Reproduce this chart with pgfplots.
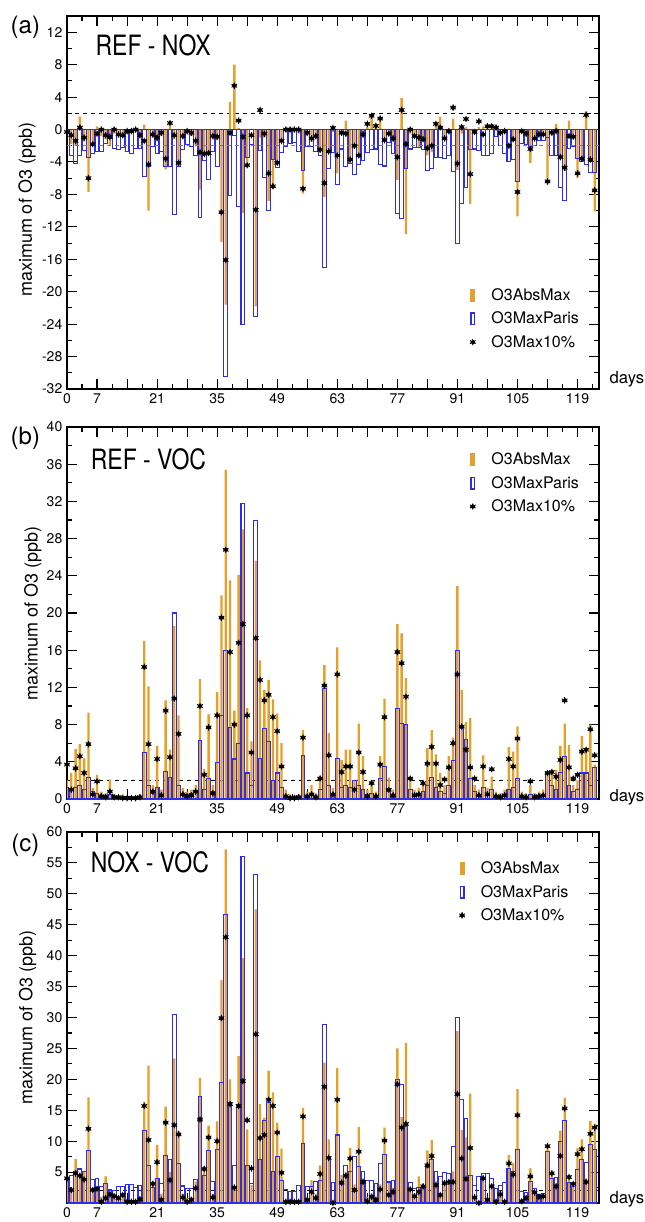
\documentclass[border=0pt]{standalone}
\usepackage{fontspec}
\setmainfont{TeX Gyre Heros}
\usepackage{pgfplots}
\usepackage{pgfplotstable}
\pgfplotsset{compat=1.18}

\definecolor{absc}{RGB}{229,160,42}
\definecolor{parc}{RGB}{45,45,235}

\pgfdeclareplotmark{starbullet}{%
  \pgfuseplotmark{asterisk}%
  \pgfpathcircle{\pgfpointorigin}{0.6\pgfplotmarksize}%
  \pgfusepathqfillstroke}

% REF - NOX : day, O3AbsMax, O3MaxParis, O3Max10%
\pgfplotstableread{
d A P S
0 -0.3 -0.5 -0.3
1 -1.8 -3.2 -0.7
2 -2.0 -4.2 -1.4
3 1.6 -3.2 0.25
4 -1.5 -2.6 -1.0
5 -7.7 -3.4 -6.0
6 -2.0 -3.0 -1.8
7 0.4 -2.7 -0.5
8 -0.8 -2.7 0.0
9 -1.2 -1.7 -0.7
10 -1.9 -1.1 -0.9
11 -0.5 -2.3 0.0
12 -1.0 -2.5 -0.6
13 -1.0 -2.2 -0.7
14 -0.5 -2.7 -0.2
15 -0.4 -3.0 -0.2
16 -0.3 -2.3 0.0
17 -1.0 -2.3 -0.7
18 0.6 -5.8 -1.4
19 -10.0 -4.6 -4.3
20 -1.0 -2.1 -0.6
21 -1.5 -3.0 -1.0
22 -0.8 -2.7 -0.4
23 -4.9 -4.6 -3.6
24 0.9 -4.6 0.8
25 -1.2 -10.5 -0.7
26 -4.5 -4.6 -4.1
27 -1.2 -2.5 -0.8
28 -0.5 -1.9 -0.2
29 -0.8 -2.1 -0.4
30 -2.0 -3.2 -1.4
31 -7.4 -10.8 -2.8
32 -3.2 -3.8 -3.0
33 -3.2 -6.2 -2.9
34 -1.2 -2.7 -0.8
35 -1.3 -4.6 -0.9
36 -13.9 -2.0 -10.2
37 -21.6 -30.5 -16.1
38 3.4 -8.1 -0.4
39 8.0 -0.7 5.4
40 0.2 -9.5 1.1
41 -10.3 -24.1 -0.9
42 -4.0 -3.4 -4.4
43 0.1 -1.9 -0.7
44 -21.8 -23.1 -9.9
45 -1.0 -2.6 2.4
46 -1.0 -5.9 -0.5
47 -8.8 -10.0 -5.4
48 -7.3 -3.7 -7.0
49 -4.3 -4.7 -4.1
50 -1.5 -2.8 -1.4
51 -0.3 -2.1 0.0
52 -0.3 -1.7 0.0
53 -0.3 -1.6 0.0
54 -0.5 -2.7 0.0
55 -7.9 -5.0 -7.3
56 -0.8 -2.1 -0.4
57 -1.5 -2.1 -1.1
58 -1.2 -2.7 -0.8
59 -2.7 -3.2 -2.5
60 -8.3 -17.0 -6.6
61 -2.8 -4.8 -2.7
62 -0.3 -2.8 0.2
63 -5.4 -6.8 -3.2
64 -0.6 -2.4 -0.4
65 1.1 -4.6 -0.5
66 -4.2 -4.2 -3.7
67 -2.2 -5.5 -2.0
68 -3.5 -4.3 -3.2
69 -1.0 -3.8 -0.6
70 0.3 -2.8 0.7
71 1.8 -2.5 1.7
72 0.2 -2.4 0.45
73 1.1 -4.3 1.35
74 -1.3 -4.5 -1.3
75 -0.8 -1.6 -0.5
76 -1.5 -3.0 -1.1
77 -6.2 -10.3 -3.4
78 3.9 -11.0 2.4
79 -12.9 -4.8 -1.8
80 -0.5 -2.4 0.0
81 -1.0 -2.2 -0.8
82 -2.3 -2.2 -1.0
83 -1.5 -2.5 -1.2
84 -3.2 -5.0 -2.3
85 -2.8 -4.8 -2.0
86 0.9 -3.4 0.7
87 1.6 -3.4 0.25
88 -1.2 -3.6 -1.1
89 -0.5 -3.2 -0.2
90 1.35 -5.2 2.7
91 -5.0 -14.1 -4.2
92 -0.5 -9.1 0.3
93 0.3 -7.2 1.3
94 -9.2 -2.5 -5.5
95 -0.5 -2.4 -0.3
96 0.3 -2.6 1.0
97 0.4 -3.2 -0.6
98 0.4 -3.2 0.4
99 0.4 -2.9 0.4
100 0.2 -0.9 0.25
101 -0.3 -2.0 -0.4
102 -0.5 -3.0 -0.2
103 0.1 -3.9 -2.0
104 -1.3 -3.7 -1.2
105 -10.7 -6.4 -7.7
106 -0.3 -1.7 -0.2
107 -0.8 -1.9 -0.5
108 -4.1 -2.1 -2.4
109 -1.0 -2.0 -1.1
110 -0.6 -1.4 -0.6
111 -0.6 -1.4 -0.6
112 -6.8 -1.0 -6.4
113 -0.5 -3.2 -0.4
114 0.7 -3.2 -0.2
115 -3.4 -7.2 -3.4
116 -5.1 -8.8 -4.7
117 1.1 -2.3 -0.8
118 -0.9 -2.1 -0.9
119 -6.0 -3.6 -5.4
120 -3.6 -4.0 -3.6
121 2.25 -4.3 1.8
122 -3.7 -5.3 -3.7
123 -10.1 -5.3 -7.5
}\refnox

% REF - VOC
\pgfplotstableread{
d A P S
0 2.0 1.2 3.7
1 2.8 1.0 1.0
2 5.4 1.2 3.3
3 5.9 1.5 4.6
4 4.4 1.0 2.8
5 9.3 2.3 5.9
6 1.2 0.8 0.5
7 2.6 0.6 1.9
8 0.8 0.4 0.3
9 0.6 0.4 0.2
10 2.1 0.5 0.8
11 0.5 0.3 0.2
12 0.4 0.3 0.2
13 0.5 0.3 0.1
14 0.3 0.3 0.1
15 0.3 0.2 0.1
16 0.3 0.2 0.1
17 0.5 0.3 0.2
18 17.0 5.0 14.2
19 12.1 1.5 5.9
20 1.5 0.6 0.8
21 5.7 1.2 4.3
22 1.0 0.5 0.4
23 10.6 3.0 9.5
24 5.3 2.3 4.5
25 18.6 20.0 10.8
26 9.0 1.5 7.0
27 1.2 0.6 0.5
28 0.8 0.5 0.3
29 1.0 0.6 0.4
30 1.5 0.8 0.8
31 12.9 6.3 10.0
32 3.2 1.0 2.6
33 9.1 2.2 7.7
34 1.5 0.8 0.6
35 11.5 3.9 9.0
36 21.9 9.0 19.5
37 35.4 16.0 26.8
38 23.5 7.7 15.8
39 9.5 4.3 8.0
40 24.1 6.0 16.8
41 29.0 31.8 18.8
42 9.8 2.8 9.0
43 6.2 1.5 5.0
44 25.6 29.9 17.3
45 14.9 4.4 12.8
46 11.7 7.6 10.6
47 12.8 6.2 11.2
48 10.7 2.0 8.8
49 9.2 2.8 7.3
50 6.0 1.2 3.5
51 1.0 0.4 0.3
52 0.5 0.3 0.1
53 0.4 0.3 0.1
54 0.5 0.3 0.2
55 7.4 4.7 6.6
56 0.8 0.4 0.3
57 1.5 0.5 0.5
58 0.6 0.3 0.2
59 2.5 1.0 2.2
60 14.4 11.9 12.2
61 7.1 1.5 4.7
62 1.2 0.5 0.5
63 16.3 4.4 13.4
64 4.2 1.2 2.9
65 5.3 1.5 3.5
66 5.3 1.2 3.5
67 2.0 2.0 1.0
68 8.1 1.5 5.0
69 4.6 1.0 2.9
70 1.0 0.5 0.3
71 2.0 0.6 1.7
72 0.8 0.4 0.3
73 4.6 2.2 3.7
74 10.8 3.5 8.8
75 2.3 0.8 1.0
76 1.0 0.5 0.4
77 18.8 9.7 15.8
78 17.8 8.1 14.6
79 13.0 8.0 11.0
80 2.2 1.0 2.2
81 1.0 0.5 0.4
82 1.2 0.6 0.5
83 1.8 0.8 1.7
84 5.5 1.5 3.8
85 7.4 2.3 5.6
86 4.8 1.2 3.8
87 2.8 0.8 1.5
88 1.5 0.6 2.1
89 4.6 1.5 3.4
90 6.6 4.1 6.0
91 22.9 16.0 13.4
92 11.7 7.6 7.8
93 8.3 6.4 5.3
94 8.7 2.2 3.4
95 1.5 0.8 2.2
96 1.0 0.5 0.4
97 4.7 1.2 3.5
98 1.2 0.6 0.5
99 2.4 1.0 3.2
100 0.8 0.4 0.3
101 0.6 0.3 0.2
102 1.0 0.5 0.4
103 5.6 1.0 4.3
104 5.1 1.2 3.5
105 7.8 2.2 6.5
106 0.8 0.4 0.3
107 0.6 0.3 0.2
108 1.5 0.5 1.9
109 0.6 0.3 0.2
110 0.8 0.4 0.3
111 1.0 0.5 0.4
112 2.9 2.9 2.8
113 3.1 1.5 2.9
114 3.1 1.0 2.4
115 5.7 2.9 4.2
116 8.1 4.6 10.6
117 5.8 1.5 3.4
118 1.5 0.8 2.2
119 2.0 1.0 2.6
120 6.8 2.8 5.1
121 5.4 2.8 5.3
122 8.0 1.5 7.5
123 3.7 3.4 4.7
}\refvoc

% NOX - VOC
\pgfplotstableread{
d A P S
0 3.5 4.2 4.0
1 2.5 4.4 2.1
2 7.1 5.1 4.8
3 4.0 5.5 4.4
4 5.1 5.1 3.8
5 17.1 8.5 12.0
6 2.5 3.8 2.1
7 2.5 3.9 2.3
8 1.0 2.6 0.2
9 4.3 3.1 0.8
10 1.8 2.1 1.4
11 1.5 2.0 1.1
12 1.2 2.6 0.8
13 1.5 2.6 1.3
14 0.5 3.0 0.2
15 0.5 3.0 0.2
16 0.5 2.5 0.2
17 1.0 2.9 0.6
18 16.4 11.7 15.7
19 22.2 6.0 10.2
20 3.5 2.5 3.1
21 9.4 4.0 6.6
22 1.5 3.2 0.5
23 15.6 7.7 13.0
24 5.0 7.0 3.7
25 23.4 30.5 12.6
26 11.7 6.4 11.1
27 1.5 2.75 0.9
28 0.8 2.3 0.2
29 1.0 2.3 0.5
30 3.5 3.8 2.4
31 20.2 17.2 13.5
32 6.0 4.5 5.5
33 12.5 8.5 10.6
34 1.5 3.5 0.9
35 13.2 8.6 10.0
36 36.1 19.5 29.9
37 57.2 46.7 43.0
38 20.0 16.3 16.0
39 2.5 6.1 2.5
40 23.8 15.4 15.7
41 39.6 56.1 19.7
42 11.9 6.1 13.4
43 2.9 3.2 5.6
44 47.5 53.2 27.3
45 16.0 7.0 10.5
46 13.8 13.4 11.0
47 21.4 16.3 16.7
48 17.9 5.1 15.7
49 13.0 7.5 11.4
50 8.8 3.7 4.9
51 0.5 2.2 0.2
52 0.3 1.8 0.2
53 0.3 1.8 0.2
54 0.5 2.9 0.2
55 15.4 9.6 14.0
56 1.0 2.6 0.5
57 3.7 2.6 1.8
58 1.5 3.5 0.8
59 6.1 3.6 4.7
60 22.7 28.9 18.8
61 10.3 7.4 7.3
62 0.5 3.3 0.0
63 21.8 11.0 16.7
64 4.5 3.0 3.3
65 5.0 6.1 4.4
66 8.9 5.1 7.2
67 3.0 7.5 2.1
68 12.3 5.9 8.3
69 4.0 5.1 3.4
70 1.0 3.7 0.3
71 1.5 3.6 1.0
72 1.0 3.2 0.5
73 3.0 6.4 2.2
74 12.2 7.9 10.1
75 3.5 3.4 1.3
76 2.5 3.6 1.8
77 25.0 19.9 19.2
78 13.9 19.2 12.2
79 25.9 12.7 12.8
80 2.5 3.3 2.2
81 1.5 2.4 1.1
82 4.3 2.5 1.8
83 3.0 2.9 2.7
84 8.5 5.8 6.1
85 10.2 7.0 7.6
86 3.5 5.1 2.9
87 1.5 4.3 1.3
88 3.5 4.9 3.2
89 3.5 4.8 3.4
90 5.1 9.2 3.4
91 27.8 30.0 17.6
92 11.8 16.7 7.2
93 10.6 13.7 3.9
94 17.7 4.5 8.9
95 1.0 2.9 0.9
96 0.3 4.3 0.0
97 4.0 4.8 4.0
98 1.0 4.8 0.5
99 3.0 4.0 2.7
100 0.5 2.4 0.2
101 2.0 2.9 1.4
102 0.5 3.3 0.2
103 7.8 5.6 6.4
104 6.5 5.1 4.6
105 18.4 8.6 14.2
106 0.5 1.9 0.3
107 1.0 1.7 0.8
108 5.6 3.5 4.3
109 2.0 2.4 1.7
110 1.2 1.4 1.0
111 1.3 1.5 1.1
112 9.0 8.3 9.2
113 5.0 4.0 4.8
114 3.0 4.1 2.7
115 11.7 10.0 7.6
116 17.0 13.3 15.3
117 4.5 3.3 4.2
118 3.3 2.6 3.1
119 8.9 5.4 7.9
120 10.3 7.1 8.7
121 4.0 6.5 3.4
122 13.3 9.5 11.2
123 12.8 8.7 12.2
}\noxvoc

\pgfplotsset{
  panel/.style={
    scale only axis, width=399pt,
    xmin=0, xmax=124,
    clip mode=individual,
    axis line style={line width=1.5pt},
    every tick/.style={black, line width=0.8pt},
    major tick length=7.5pt, minor tick length=3.75pt,
    tick align=inside,
    xtick={0,7,...,119},
    xticklabels={0,7,{},21,{},35,{},49,{},63,{},77,{},91,{},105,{},119},
    minor xtick={3.5,10.5,...,122.5},
    ticklabel style={font=\fontsize{10.5}{12}\selectfont},
    /pgf/number format/assume math mode=true,
    ylabel={maximum of O3 (ppb)},
    ylabel style={font=\fontsize{13.5}{16}\selectfont, anchor=center},
    legend cell align=left,
    legend style={draw=none, fill=none, anchor=west, inner sep=0pt,
      row sep=5pt, nodes={inner sep=1pt}, font=\fontsize{12}{14}\selectfont},
  },
  absbar/.style={ybar, bar shift=0pt, bar width=0.55, fill=absc, draw=none,
    legend image code/.code={\fill[absc] (-1.9pt,-4.9pt) rectangle (1.9pt,4.9pt);
      \path[draw=none, fill=none] (-1.9pt,0pt) -- (13pt,0pt);}},
  parbar/.style={ybar, bar shift=0pt, bar width=0.9, draw=parc, line width=0.8pt, fill=none,
    legend image code/.code={\draw[parc, line width=1pt] (-1.3pt,-4.4pt) rectangle (1.3pt,4.4pt);
      \path[draw=none, fill=none] (-1.9pt,0pt) -- (13pt,0pt);}},
  p10/.style={only marks, mark=starbullet, mark size=2.4pt, black, line width=0.7pt,
    legend image code/.code={\path[draw=none, fill=none] (-1.9pt,0pt) -- (13pt,0pt);
      \pgfsetplotmarksize{2.4pt}\pgfuseplotmark{starbullet}}},
}

\begin{document}
\begin{tikzpicture}

% (a) REF - NOX
\begin{axis}[panel, at={(50.25pt,-12pt)}, anchor=north west, height=279.75pt,
  ymin=-32, ymax=14,
  ytick={-32,-28,...,12}, minor ytick={-30,-26,...,10},
  ylabel style={at={(axis description cs:-0.075,0.48)}},
  legend style={at={(axis description cs:0.757,0.188)}}]
\draw[dashed, line width=0.6pt] (axis cs:0,2) -- (axis cs:124,2);
\addplot[absbar] table[x=d, y=A] {\refnox};
\addplot[parbar] table[x=d, y=P] {\refnox};
\draw[dashed, gray, line width=0.8pt] (axis cs:0,-2) -- (axis cs:124,-2);
\addplot[p10] table[x=d, y=S] {\refnox};
\legend{O3AbsMax, O3MaxParis, O3Max10\%}
\node[anchor=west, font=\fontsize{21}{24}\selectfont] at (axis description cs:0.045,0.922) {\scalebox{0.82}[1]{REF - NOX}};
\node[anchor=base west, font=\fontsize{12.5}{14}\selectfont, xshift=4.5pt, yshift=4.5pt] at (rel axis cs:1,0) {days};
\end{axis}

% (b) REF - VOC
\begin{axis}[panel, at={(50.25pt,-320.25pt)}, anchor=north west, height=279pt,
  ymin=0, ymax=40,
  ytick={0,4,...,40}, minor ytick={2,6,...,38},
  ylabel style={at={(axis description cs:-0.064,0.5)}},
  legend style={at={(axis description cs:0.757,0.849)}}]
\draw[dashed, line width=0.6pt] (axis cs:0,2) -- (axis cs:124,2);
\addplot[absbar] table[x=d, y=A] {\refvoc};
\addplot[parbar] table[x=d, y=P] {\refvoc};
\addplot[p10] table[x=d, y=S] {\refvoc};
\legend{O3AbsMax, O3MaxParis, O3Max10\%}
\node[anchor=west, font=\fontsize{21}{24}\selectfont] at (axis description cs:0.036,0.914) {\scalebox{0.82}[1]{REF - VOC}};
\node[anchor=base west, font=\fontsize{12.5}{14}\selectfont, xshift=4.5pt, yshift=-1.5pt] at (rel axis cs:1,0) {days};
\end{axis}

% (c) NOX - VOC
\begin{axis}[panel, at={(50.25pt,-624pt)}, anchor=north west, height=278.25pt,
  ymin=0, ymax=60,
  ytick={5,10,...,60}, minor ytick={2.5,7.5,...,57.5},
  ylabel style={at={(axis description cs:-0.074,0.5)}},
  legend style={at={(axis description cs:0.737,0.838)}}]
\draw[dashed, line width=0.6pt] (axis cs:0,2) -- (axis cs:124,2);
\addplot[absbar] table[x=d, y=A] {\noxvoc};
\addplot[parbar] table[x=d, y=P] {\noxvoc};
\addplot[p10] table[x=d, y=S] {\noxvoc};
\legend{O3AbsMax, O3MaxParis, O3Max10\%}
\node[anchor=west, font=\fontsize{21}{24}\selectfont] at (axis description cs:0.036,0.919) {\scalebox{0.82}[1]{NOX - VOC}};
\node[anchor=base west, font=\fontsize{12.5}{14}\selectfont, xshift=4.5pt, yshift=0pt] at (rel axis cs:1,0) {days};
\end{axis}

\node[font=\fontsize{18}{20}\selectfont] at (19pt,-20.25pt) {(a)};
\node[font=\fontsize{18}{20}\selectfont] at (19pt,-328.5pt) {(b)};
\node[font=\fontsize{18}{20}\selectfont] at (19pt,-633.75pt) {(c)};

\pgfresetboundingbox
\path (0pt,0pt) rectangle (483pt,-916.5pt);
\end{tikzpicture}
\end{document}
